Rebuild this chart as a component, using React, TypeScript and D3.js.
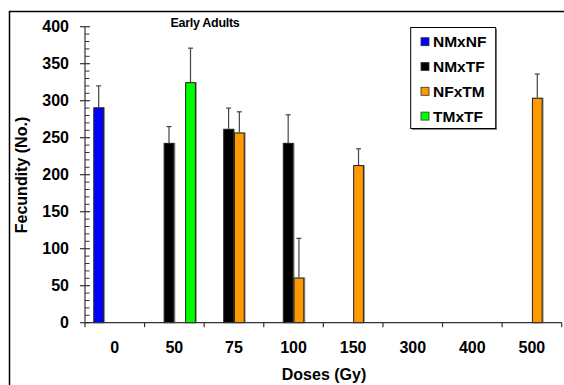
import React, { useEffect, useRef } from "react";
import * as d3 from "d3";

const categories = ["0", "50", "75", "100", "150", "300", "400", "500"];
const series = ["NMxNF", "NMxTF", "NFxTM", "TMxTF"];
const colors = ["#0000ff", "#000000", "#ff9900", "#00ff00"];

// mean fecundity per dose, null = not tested
const nmxnf = [291, null, null, null, null, null, null, null];
const nmxtf = [null, 243, 262, 243, null, null, null, null];
const nfxtm = [null, null, 257, 61, 213, null, null, 304];
const tmxtf = [null, 325, null, null, null, null, null, null];

// upper error bar values
const nmxnfErr = [320, null, null, null, null, null, null, null];
const nmxtfErr = [null, 265, 290, 281, null, null, null, null];
const nfxtmErr = [null, null, 285, 114, 235, null, null, 336];
const tmxtfErr = [null, 371, null, null, null, null, null, null];

const yTicks = [0, 50, 100, 150, 200, 250, 300, 350, 400];

const App = () => {
  const svgRef = useRef<SVGSVGElement>(null);

  useEffect(() => {
    const W = 564;
    const H = 385;
    const font = "'Liberation Sans', Arial, sans-serif";
    const svg = d3.select(svgRef.current).attr("width", W).attr("height", H);
    svg.selectAll("*").remove();

    // outer frame (cut off at right/bottom)
    svg.append("rect")
      .attr("x", 9.5).attr("y", 11.5)
      .attr("width", 700).attr("height", 500)
      .attr("fill", "white").attr("stroke", "black").attr("stroke-width", 1.5);

    const x = d3.scaleBand().domain(categories).range([85, 561.7]);
    const xs = d3.scaleBand().domain(series).range([8.3, x.bandwidth() - 8.3]);
    const y = d3.scaleLinear().domain([0, 400]).range([322.7, 26.7]);

    //bars
    const all = [nmxnf, nmxtf, nfxtm, tmxtf];
    const errs = [nmxnfErr, nmxtfErr, nfxtmErr, tmxtfErr];
    const rows: any[] = [];
    series.forEach((s, i) => {
      categories.forEach((c, j) => {
        if (all[i][j] != null) rows.push({ s, c, v: all[i][j], e: errs[i][j], col: colors[i] });
      });
    });

    const g = svg.append("g");
    // error bars
    g.selectAll("line.err").data(rows).join("line")
      .attr("x1", d => x(d.c)! + xs(d.s)! + xs.bandwidth() / 2)
      .attr("x2", d => x(d.c)! + xs(d.s)! + xs.bandwidth() / 2)
      .attr("y1", d => y(d.v)).attr("y2", d => y(d.e))
      .attr("stroke", "#444").attr("stroke-width", 1.2);
    g.selectAll("line.cap").data(rows).join("line")
      .attr("x1", d => x(d.c)! + xs(d.s)! + xs.bandwidth() / 2 - 2.5)
      .attr("x2", d => x(d.c)! + xs(d.s)! + xs.bandwidth() / 2 + 2.5)
      .attr("y1", d => y(d.e)).attr("y2", d => y(d.e))
      .attr("stroke", "#444").attr("stroke-width", 1.2);

    // shadow on right side
    g.selectAll("rect.sh").data(rows).join("rect")
      .attr("x", d => x(d.c)! + xs(d.s)! + 1)
      .attr("y", d => y(d.v))
      .attr("width", xs.bandwidth())
      .attr("height", d => y(0) - y(d.v))
      .attr("fill", "#999");
    g.selectAll("rect.bar").data(rows).join("rect")
      .attr("x", d => x(d.c)! + xs(d.s)! + 0.5)
      .attr("y", d => y(d.v) + 0.5)
      .attr("width", xs.bandwidth() - 1)
      .attr("height", d => y(0) - y(d.v) - 0.5)
      .attr("fill", d => d.col)
      .attr("stroke", "#222").attr("stroke-width", 1);

    // y axis
    svg.append("line")
      .attr("x1", 85).attr("x2", 85).attr("y1", y(400)).attr("y2", y(0) + 0.5)
      .attr("stroke", "#333").attr("stroke-width", 1.2);
    const minor = d3.range(0, 401, 10).filter(v => v % 50 !== 0);
    svg.selectAll("line.minor").data(minor).join("line")
      .attr("x1", 85).attr("x2", 89.5)
      .attr("y1", d => y(d)).attr("y2", d => y(d))
      .attr("stroke", "#333").attr("stroke-width", 1);
    svg.selectAll("line.major").data(yTicks).join("line")
      .attr("x1", 80).attr("x2", 90)
      .attr("y1", d => y(d)).attr("y2", d => y(d))
      .attr("stroke", "#333").attr("stroke-width", 1.2);
    svg.selectAll("text.yl").data(yTicks).join("text")
      .attr("x", 69).attr("y", d => y(d) + 5.5)
      .attr("text-anchor", "end")
      .style("font", `bold 16px ${font}`)
      .text(d => d);

    // x axis
    svg.append("line")
      .attr("x1", 85).attr("x2", 561.7).attr("y1", y(0)).attr("y2", y(0))
      .attr("stroke", "#333").attr("stroke-width", 1.2);
    const bounds = categories.map(c => x(c)!).concat([x.range()[1]]);
    svg.selectAll("line.xt").data(bounds).join("line")
      .attr("x1", d => d).attr("x2", d => d)
      .attr("y1", y(0)).attr("y2", y(0) + 4.5)
      .attr("stroke", "#333").attr("stroke-width", 1.2);
    svg.selectAll("text.xl").data(categories).join("text")
      .attr("x", d => x(d)! + x.bandwidth() / 2)
      .attr("y", 352.5)
      .attr("text-anchor", "middle")
      .style("font", `bold 16px ${font}`)
      .text(d => d);

    // axis titles
    svg.append("text")
      .attr("x", 324).attr("y", 380)
      .attr("text-anchor", "middle")
      .style("font", `bold 16px ${font}`)
      .text("Doses (Gy)");
    svg.append("text")
      .attr("transform", "translate(27,175) rotate(-90)")
      .attr("text-anchor", "middle")
      .style("font", `bold 16px ${font}`)
      .text("Fecundity (No.)");

    // title
    svg.append("text")
      .attr("x", 205).attr("y", 27)
      .attr("text-anchor", "middle")
      .style("font", `bold 12.5px ${font}`)
      .style("letter-spacing", "-0.3px")
      .text("Early Adults");

    // legend
    const leg = svg.append("g");
    leg.append("rect")
      .attr("x", 412).attr("y", 29)
      .attr("width", 85).attr("height", 101)
      .attr("fill", "#888");
    leg.append("rect")
      .attr("x", 410.7).attr("y", 27.5)
      .attr("width", 85).attr("height", 101)
      .attr("fill", "white").attr("stroke", "black").attr("stroke-width", 1);
    series.forEach((s, i) => {
      const cy = 41.7 + i * 24.8;
      leg.append("rect")
        .attr("x", 421).attr("y", cy - 4)
        .attr("width", 8).attr("height", 8)
        .attr("fill", colors[i]).attr("stroke", "#333").attr("stroke-width", 0.8);
      leg.append("text")
        .attr("x", 433).attr("y", cy + 5.5)
        .style("font", `bold 15.5px ${font}`)
        .text(s);
    });
  }, []);

  return (
    <svg ref={svgRef} style={{ position: "absolute", left: 0, top: 0 }}></svg>
  );
};

export default App;
